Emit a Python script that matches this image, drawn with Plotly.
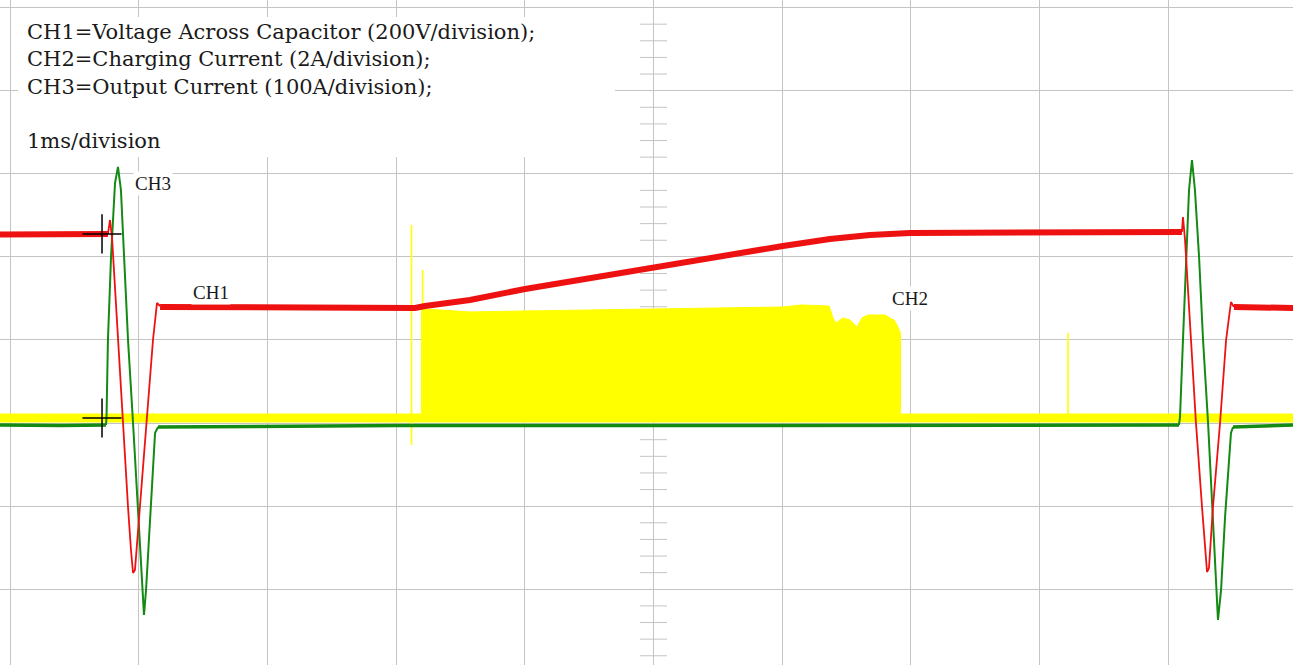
import plotly.graph_objects as go

# ---------------- data (time in ms = divisions, amplitude in screen divisions) ----------------
# CH1 : voltage across capacitor (red)
ch1_pre_t = [-0.078, 0.30, 0.761]
ch1_pre_v = [1.27, 1.28, 1.276]
ch1_p1_t = [0.761, 0.777, 0.793, 0.839, 0.878, 0.917, 0.940, 0.956, 0.971, 1.010, 1.064, 1.111, 1.142, 1.166]
ch1_p1_v = [1.276, 1.444, 1.227, 0.0, -0.999, -2.010, -2.527, -2.804, -2.768, -2.010, -0.999, 0.0, 0.445, 0.409]
ch1_mid_t = [1.166, 2.253, 3.147, 3.225, 3.574, 4.002, 4.507, 5.004, 5.517, 6.006, 6.371, 6.682, 6.993, 7.692, 8.469, 9.106]
ch1_mid_v = [0.397, 0.385, 0.385, 0.409, 0.481, 0.614, 0.746, 0.878, 1.011, 1.131, 1.215, 1.264, 1.288, 1.288, 1.300, 1.300]
ch1_p2_t = [9.106, 9.114, 9.130, 9.176, 9.215, 9.262, 9.285, 9.301, 9.316, 9.347, 9.402, 9.449, 9.487, 9.510]
ch1_p2_v = [1.300, 1.480, 1.203, 0.0, -0.999, -2.010, -2.527, -2.792, -2.744, -2.010, -0.999, 0.0, 0.457, 0.397]
ch1_post_t = [9.510, 9.969]
ch1_post_v = [0.397, 0.385]

# CH3 : output current (green)
ch3_pre_t = [-0.078, 0.40, 0.746]
ch3_pre_v = [-1.023, -1.03, -1.023]
ch3_p1_t = [0.746, 0.750, 0.761, 0.785, 0.816, 0.839, 0.862, 0.878, 0.917, 0.956, 0.995, 1.018, 1.041, 1.057, 1.088, 1.127, 1.150]
ch3_p1_v = [-1.023, -0.927, 0.0, 0.999, 1.889, 2.082, 1.805, 1.288, 0.0, -0.999, -2.010, -2.708, -3.309, -3.008, -2.130, -1.119, -1.047]
ch3_mid_t = [1.150, 3.0, 5.0, 7.0, 9.083]
ch3_mid_v = [-1.047, -1.03, -1.03, -1.03, -1.023]
ch3_p2_t = [9.083, 9.091, 9.114, 9.138, 9.161, 9.184, 9.207, 9.239, 9.270, 9.309, 9.340, 9.363, 9.386, 9.410, 9.441, 9.487, 9.503]
ch3_p2_v = [-1.023, -0.927, 0.0, 0.999, 1.805, 2.166, 1.805, 0.999, 0.0, -0.999, -2.010, -2.768, -3.369, -3.008, -2.130, -1.119, -1.047]
ch3_post_t = [9.503, 9.969]
ch3_post_v = [-1.047, -1.023]

# CH2 : charging current (yellow)
ch2_base_t = [-0.078, 9.969]
ch2_base_v = [-0.939, -0.939]
ch2_env_t = [3.197, 3.225, 3.574, 4.002, 4.507, 5.004, 5.517, 6.006, 6.146, 6.364, 6.395, 6.418,
             6.472, 6.527, 6.581, 6.620, 6.667, 6.799, 6.838, 6.869, 6.892, 6.908, 6.919]
ch2_env_v = [0.361, 0.373, 0.337, 0.349, 0.361, 0.373, 0.385, 0.397, 0.421, 0.409, 0.265, 0.205,
             0.265, 0.241, 0.156, 0.265, 0.301, 0.301, 0.265, 0.241, 0.181, 0.120, 0.084]
ch2_spike_t = [3.120, 3.206, 8.221]
ch2_spike_top = [1.384, 0.842, 0.084]
ch2_spike_bot = [-1.264, -0.939, -0.939]

# cursor markers
cursor_t = [0.715, 0.715]
cursor_v = [1.276, -0.939]

# text
info_lines = ["CH1=Voltage Across Capacitor (200V/division);",
              "CH2=Charging Current (2A/division);",
              "CH3=Output Current (100A/division);",
              "",
              "1ms/division"]
labels = ["CH3", "CH1", "CH2"]
label_t = [1.111, 1.562, 6.993]
label_v = [1.889, 0.566, 0.505]

RED = "#ee1111"
GREEN = "#138a13"
YELLOW = "#ffff00"

fig = go.Figure()

# CH2 filled burst
base = ch2_base_v[0]
poly_x = [ch2_env_t[0]] + ch2_env_t + [ch2_env_t[-1]]
poly_y = [base] + ch2_env_v + [base]
fig.add_trace(go.Scatter(x=poly_x, y=poly_y, mode="lines", fill="toself", fillcolor=YELLOW,
                         line=dict(color=YELLOW, width=1), hoverinfo="skip"))
fig.add_trace(go.Scatter(x=ch2_base_t, y=ch2_base_v, mode="lines",
                         line=dict(color=YELLOW, width=9), hoverinfo="skip"))
for t, top, bot in zip(ch2_spike_t, ch2_spike_top, ch2_spike_bot):
    fig.add_trace(go.Scatter(x=[t, t, t], y=[base, top, bot], mode="lines",
                             line=dict(color=YELLOW, width=1.6), hoverinfo="skip"))

# CH3 green
for tt, vv, w in [(ch3_pre_t, ch3_pre_v, 3.5), (ch3_p1_t, ch3_p1_v, 2), (ch3_mid_t, ch3_mid_v, 3.5),
                  (ch3_p2_t, ch3_p2_v, 2), (ch3_post_t, ch3_post_v, 3.5)]:
    fig.add_trace(go.Scatter(x=tt, y=vv, mode="lines", line=dict(color=GREEN, width=w), hoverinfo="skip"))

# CH1 red
for tt, vv, w in [(ch1_pre_t, ch1_pre_v, 6), (ch1_p1_t, ch1_p1_v, 1.8), (ch1_mid_t, ch1_mid_v, 6),
                  (ch1_p2_t, ch1_p2_v, 1.8), (ch1_post_t, ch1_post_v, 6)]:
    fig.add_trace(go.Scatter(x=tt, y=vv, mode="lines", line=dict(color=RED, width=w), hoverinfo="skip"))

fig.add_trace(go.Scatter(x=cursor_t, y=cursor_v, mode="markers",
                         marker=dict(symbol="cross-thin", size=28, line=dict(width=1.5, color="black")),
                         hoverinfo="skip"))

shapes = []
# white text box covering grid
shapes.append(dict(type="rect", xref="x", yref="y", x0=0.062, x1=4.701, y0=2.202, y1=3.887,
                   fillcolor="white", line=dict(width=0), layer="between"))
# centre graticule minor ticks
for k in range(-20, 21):
    if k % 5 == 0:
        continue
    v = k * 0.2
    shapes.append(dict(type="line", xref="x", yref="y", x0=4.895, x1=5.105, y0=v, y1=v,
                       line=dict(color="#c4c4c4", width=1), layer="between"))

annotations = [dict(x=0.117, y=3.88, xref="x", yref="y", text="<br>".join(info_lines), showarrow=False,
                    xanchor="left", yanchor="top", align="left",
                    font=dict(family="DejaVu Serif", size=21, color="#1a1a1a"))]
for txt, t, v in zip(labels, label_t, label_v):
    annotations.append(dict(x=t, y=v, xref="x", yref="y", text=txt, showarrow=False,
                            xanchor="center", yanchor="middle", bgcolor="white", borderpad=1,
                            font=dict(family="Liberation Serif", size=19, color="#1a1a1a")))

fig.update_layout(
    width=1293, height=665, margin=dict(l=0, r=0, t=0, b=0),
    paper_bgcolor="white", plot_bgcolor="white", showlegend=False,
    shapes=shapes, annotations=annotations,
    xaxis=dict(range=[-0.0777, 9.9689], dtick=1, tick0=0, showgrid=True, gridcolor="#c4c4c4",
               gridwidth=1, zeroline=False, showticklabels=False, ticks="", showline=False, fixedrange=True),
    yaxis=dict(range=[-3.911, 4.091], dtick=1, tick0=0, showgrid=True, gridcolor="#c4c4c4",
               gridwidth=1, zeroline=False, showticklabels=False, ticks="", showline=False, fixedrange=True),
)

fig.write_html("out.html", config={"displayModeBar": False},
               post_script="document.body.style.margin='0';")
